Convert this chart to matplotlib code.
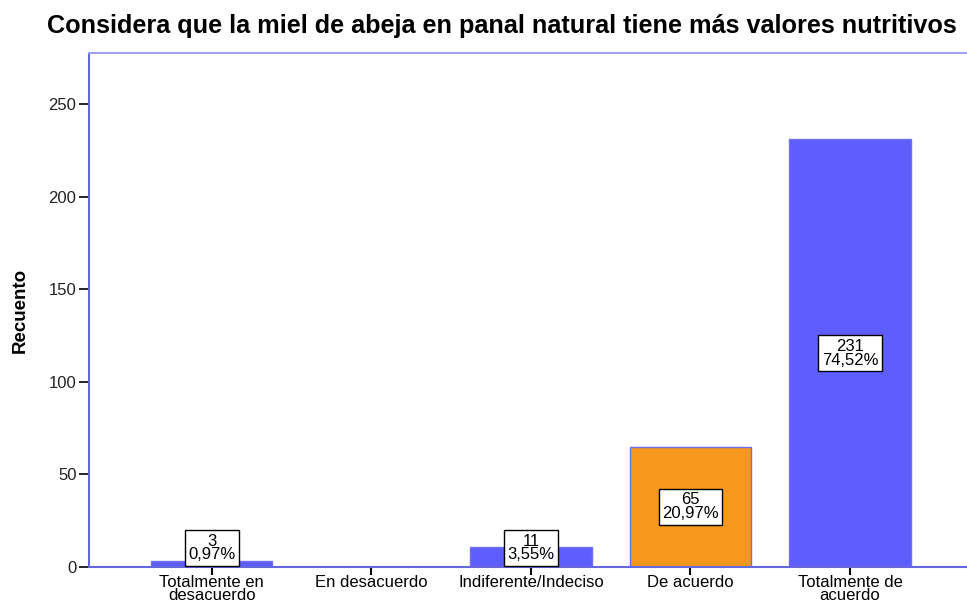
import matplotlib
matplotlib.use("Agg")
from matplotlib import pyplot as plt

categorias = ["Totalmente en\ndesacuerdo", "En desacuerdo", "Indiferente/Indeciso",
              "De acuerdo", "Totalmente de\nacuerdo"]
recuento = [3, 0, 11, 65, 231]
porcentaje = ["0,97%", "", "3,55%", "20,97%", "74,52%"]
colores = ["#5E5EFF", "#5E5EFF", "#5E5EFF", "#F7981D", "#5E5EFF"]

plt.rcParams['font.family'] = ['Liberation Sans', 'DejaVu Sans']

fig = plt.figure(figsize=(9.67, 6.01), dpi=100)
ax = fig.add_axes([0.092, 0.0566, 0.914, 0.855])

x = range(len(categorias))
ax.bar(x, recuento, width=0.76, color=colores, edgecolor="#7070F0", linewidth=1)

for i, v in enumerate(recuento):
    if v == 0:
        continue
    y = max(v / 2, 10.3)
    ax.text(i, y, f"{v}\n{porcentaje[i]}", ha="center", va="center", fontsize=12,
            linespacing=0.9,
            bbox=dict(boxstyle="square,pad=0.2", fc="white", ec="black", lw=1))

ax.set_xlim(-0.77, 4.77)
ax.set_ylim(0, 277.5)
ax.set_yticks([0, 50, 100, 150, 200, 250])
ax.set_xticks(list(x))
ax.set_xticklabels(categorias, fontsize=12, linespacing=0.78)
ax.tick_params(axis="y", labelsize=12, length=7, width=1.2, color="black", pad=2)
ax.tick_params(axis="x", length=6, width=1.5, color="black", pad=0)
for t in ax.get_yticklabels():
    t.set_color("#222222")

ax.spines["left"].set_color("#6666DD")
ax.spines["bottom"].set_color("#6666DD")
ax.spines["top"].set_color("#A0A0F0")
ax.spines["right"].set_color("#A0A0F0")
for s in ax.spines.values():
    s.set_linewidth(1.5)

fig.text(0.021, 0.484, "Recuento", rotation=90, ha="center",
         va="center", fontsize=13.5, fontweight="bold")
fig.text(0.519, 0.957, "Considera que la miel de abeja en panal natural tiene más valores nutritivos",
         ha="center", va="center", fontsize=18.2, fontweight="bold")

fig.savefig("out.png", dpi=100)
